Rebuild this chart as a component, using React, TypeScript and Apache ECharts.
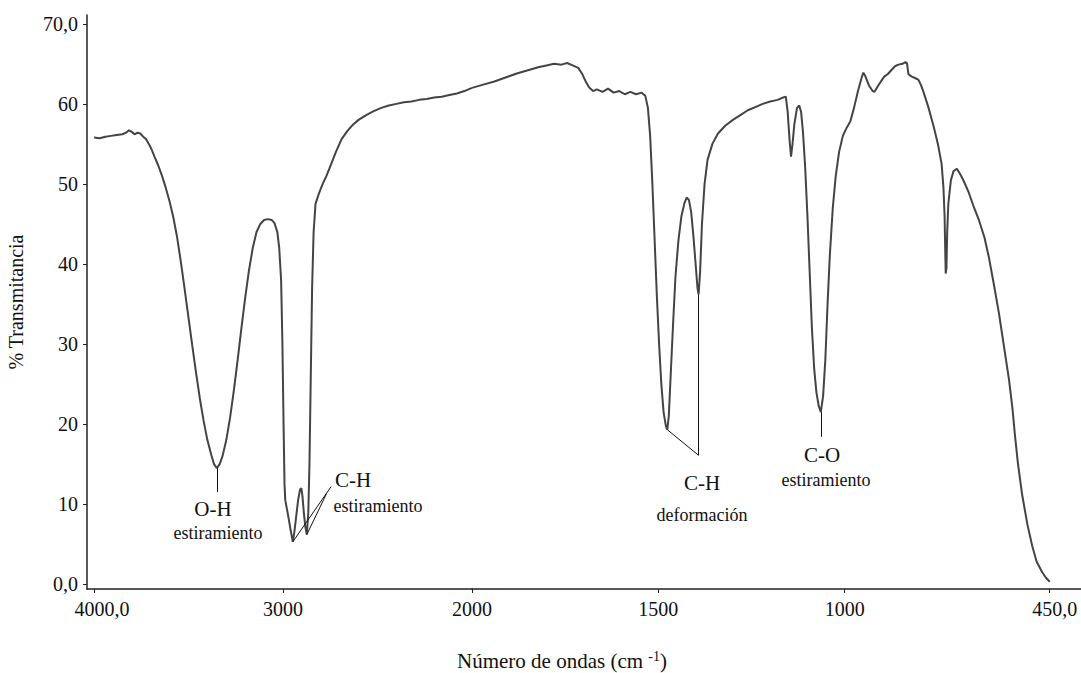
import React, { useEffect, useRef } from "react";
import * as echarts from "echarts";

// Wavenumber (cm-1) and % transmittance, 4000 -> 2000 region (compressed scale)
const wnHigh = [
  4000, 3970, 3940, 3910, 3880, 3850, 3830, 3815, 3800, 3785, 3770, 3755, 3740, 3725, 3710, 3695,
  3680, 3660, 3640, 3620, 3600, 3580, 3560, 3540, 3520, 3500, 3480, 3460, 3440, 3420, 3400, 3380,
  3365, 3350, 3335, 3320, 3300, 3280, 3260, 3240, 3220, 3200, 3180, 3160, 3140, 3120, 3100, 3080,
  3060, 3045, 3030, 3020, 3010, 3003, 2997, 2992, 2988, 2980, 2970, 2960, 2948, 2940, 2930, 2920,
  2910, 2903, 2897, 2890, 2882, 2874, 2866, 2860, 2853, 2846, 2838, 2828, 2810, 2790, 2770, 2750,
  2720, 2690, 2660, 2630, 2600, 2560, 2520, 2480, 2440, 2400, 2360, 2320, 2280, 2240, 2200, 2160,
  2120, 2080, 2040, 2000,
];
const tHigh = [
  55.8, 55.7, 55.9, 56.0, 56.1, 56.2, 56.4, 56.7, 56.5, 56.2, 56.4, 56.3, 55.9, 55.6, 55.0, 54.3,
  53.4, 52.3, 51.0, 49.5, 47.8, 45.8, 43.3, 40.2, 36.8, 33.3, 29.8, 26.4, 23.2, 20.4, 18.0, 16.2,
  15.0, 14.5, 15.0, 16.0, 18.0, 20.8, 24.2, 28.0, 32.0, 35.8, 39.2, 42.0, 44.0, 45.0, 45.5, 45.6,
  45.5, 45.1, 44.0, 42.0, 38.0, 30.0, 20.0, 12.5, 10.5, 9.5, 8.2, 6.8, 5.3, 6.5, 8.5, 10.5,
  11.8, 12.0, 11.0, 9.0, 7.2, 6.2, 9.0, 15.0, 26.0, 37.0, 44.0, 47.5, 48.8, 50.0, 51.0, 52.2,
  54.0, 55.6, 56.6, 57.4, 58.0, 58.6, 59.1, 59.5, 59.8, 60.0, 60.2, 60.3, 60.5, 60.6, 60.8, 60.9,
  61.1, 61.3, 61.6, 62.0,
];

// 2000 -> 450 region (expanded scale)
const wnLow = [
  2000, 1970, 1940, 1910, 1880, 1850, 1820, 1800, 1780, 1760, 1745, 1730, 1715, 1705, 1695, 1685,
  1675, 1665, 1650, 1635, 1620, 1605, 1590, 1575, 1560, 1545, 1535, 1528, 1522, 1516, 1510, 1504,
  1498, 1492, 1486, 1480, 1476, 1472, 1466, 1460, 1454, 1446, 1438, 1430, 1424, 1418, 1412, 1406,
  1400, 1395, 1392, 1388, 1383, 1376, 1368, 1355, 1340, 1320, 1300, 1280, 1260, 1240, 1220, 1200,
  1180, 1165, 1158, 1153, 1148, 1144, 1140, 1135, 1128, 1122, 1117, 1112, 1106, 1100, 1094, 1088,
  1082, 1076, 1070, 1064, 1058, 1052, 1046, 1040, 1032, 1024, 1015, 1005, 995, 985, 975, 965,
  955, 950, 945, 935, 925, 920, 910, 900, 894, 885, 875, 865, 856, 845, 837, 833,
  829, 820, 810, 802, 795, 788, 775, 761, 750, 740, 735, 732, 730, 729, 727, 725,
  722, 715, 708, 699, 690, 680, 667, 655, 640, 625, 613, 600, 586, 572, 559, 550,
  543, 535, 524, 510, 497, 485, 470, 460, 450,
];
const tLow = [
  62.0, 62.4, 62.8, 63.3, 63.8, 64.2, 64.6, 64.8, 65.0, 64.9, 65.1, 64.8, 64.5, 63.8, 62.8, 62.0,
  61.6, 61.8, 61.5, 61.9, 61.4, 61.6, 61.2, 61.5, 61.2, 61.4, 61.0, 59.5, 56.0, 50.0, 43.0, 36.0,
  30.0, 25.0, 21.5, 19.8, 19.3, 21.0, 27.0, 33.0, 38.5, 43.0, 46.0, 47.6, 48.3, 48.0, 46.5, 43.5,
  40.0, 37.0, 36.2, 39.0, 45.0, 50.0, 53.0, 55.0, 56.3, 57.3, 58.0, 58.6, 59.2, 59.6, 60.0, 60.3,
  60.5, 60.8, 60.9, 59.0, 55.5, 53.4, 55.0, 57.5, 59.5, 59.8, 59.0, 56.5, 52.0, 46.0, 39.0, 32.0,
  27.0, 24.0, 22.3, 21.5, 23.5, 28.0, 35.0, 41.0, 47.0, 51.0, 54.0, 56.0, 57.0, 57.8, 59.5, 61.5,
  63.2, 63.9, 63.5, 62.3, 61.6, 61.5, 62.3, 63.0, 63.4, 63.7, 64.2, 64.7, 64.9, 65.0, 65.2, 65.1,
  63.7, 63.4, 63.2, 63.0, 62.3, 61.4, 59.5, 57.1, 55.0, 52.5, 49.5, 46.0, 41.0, 38.8, 39.5, 44.0,
  47.5, 50.5, 51.6, 51.9, 51.2, 50.3, 48.9, 47.3, 45.5, 43.3, 40.8, 37.5, 33.8, 29.5, 25.5, 22.0,
  18.5, 15.0, 11.2, 7.5, 4.8, 2.8, 1.5, 0.8, 0.3,
];

const xTicksHigh = [4000, 3000];
const xTicksLow = [2000, 1500, 1000, 450];
const yTicks = [0, 10, 20, 30, 40, 50, 60, 70];

const SERIF = "'Liberation Serif', 'DejaVu Serif', serif";
const INK = "#111";

const xLabel = (v: number) => (v === 4000 ? "{e|4000,0}" : v === 450 ? "{f|450,0}" : String(v));
const yLabel = (v: number) => (v === 0 ? "0,0" : v === 70 ? "70,0" : String(v));

export default function App() {
  const ref = useRef<HTMLDivElement>(null);
  useEffect(() => {
    if (!ref.current) return;
    const chart = echarts.init(ref.current, null, { renderer: "svg" });
    const lineColor = "#444";
    const xAxisCommon = (gridIndex: number, min: number, max: number, ticks: number[]) => ({
      type: "value",
      gridIndex,
      min,
      max,
      inverse: true,
      splitLine: { show: false },
      axisLine: { show: true, onZero: false, lineStyle: { color: "#222", width: 1.5 } },
      axisTick: { show: true, length: 4, customValues: ticks, lineStyle: { color: "#222" } },
      axisLabel: {
        customValues: ticks,
        formatter: xLabel,
        margin: 10,
        fontFamily: SERIF,
        fontSize: 20,
        color: INK,
        rich: {
          e: { fontFamily: SERIF, fontSize: 20, color: INK, padding: [0, 0, 0, 16] },
          f: { fontFamily: SERIF, fontSize: 20, color: INK, padding: [0, 0, 0, 10] },
        },
      },
    });
    const txt = (x: number, y: number, text: string, size: number) => ({
      type: "text",
      x,
      y,
      style: { text, fontFamily: SERIF, fontSize: size, fill: INK, align: "center", verticalAlign: "middle" },
    });
    chart.setOption({
      animation: false,
      backgroundColor: "#fff",
      grid: [
        { left: 87, top: 15, width: 385, height: 574, containLabel: false },
        { left: 472, top: 15, width: 609, height: 574, containLabel: false },
      ],
      xAxis: [xAxisCommon(0, 2000, 4037, xTicksHigh), xAxisCommon(1, 366, 2000, xTicksLow)],
      yAxis: [
        {
          type: "value",
          gridIndex: 0,
          min: -0.6,
          max: 71.1,
          name: "% Transmitancia",
          nameLocation: "middle",
          nameGap: 61,
          nameRotate: 90,
          nameTextStyle: { fontFamily: SERIF, fontSize: 20, color: INK },
          splitLine: { show: false },
          axisLine: { show: true, lineStyle: { color: "#222", width: 1.5 } },
          axisTick: { show: true, length: 4, customValues: yTicks, lineStyle: { color: "#222" } },
          axisLabel: {
            customValues: yTicks,
            formatter: yLabel,
            margin: 9,
            fontFamily: SERIF,
            fontSize: 20,
            color: INK,
          },
        },
        { type: "value", gridIndex: 1, min: -0.6, max: 71.1, show: false },
      ],
      series: [
        {
          type: "line",
          xAxisIndex: 0,
          yAxisIndex: 0,
          data: wnHigh.map((w, i) => [w, tHigh[i]]),
          showSymbol: false,
          smooth: false,
          lineStyle: { color: lineColor, width: 2 },
          markLine: {
            silent: true,
            symbol: ["none", "none"],
            label: { show: false },
            lineStyle: { color: INK, width: 1, type: "solid" },
            data: [
              [{ coord: [3350, 14.5] }, { coord: [3350, 11.5] }],
              [{ coord: [2948, 5.3] }, { coord: [2745, 12.2] }],
              [{ coord: [2874, 6.2] }, { coord: [2770, 11.3] }],
            ],
          },
        },
        {
          type: "line",
          xAxisIndex: 1,
          yAxisIndex: 1,
          data: wnLow.map((w, i) => [w, tLow[i]]),
          showSymbol: false,
          smooth: false,
          lineStyle: { color: lineColor, width: 2 },
          markLine: {
            silent: true,
            symbol: ["none", "none"],
            label: { show: false },
            lineStyle: { color: INK, width: 1, type: "solid" },
            data: [
              [{ coord: [1476, 19.3] }, { coord: [1392, 16.1] }],
              [{ coord: [1392, 36.2] }, { coord: [1392, 16.1] }],
              [{ coord: [1064, 21.5] }, { coord: [1064, 18.4] }],
            ],
          },
        },
      ],
      graphic: [
        txt(213, 509, "O-H", 21),
        txt(218, 533, "estiramiento", 18),
        txt(353, 480, "C-H", 21),
        txt(378, 506, "estiramiento", 18),
        txt(702, 483, "C-H", 21),
        txt(702, 515, "deformación", 18),
        txt(822, 455, "C-O", 21),
        txt(826, 480, "estiramiento", 18),
        {
          type: "text",
          x: 562,
          y: 661,
          style: {
            text: "{n|Número de ondas (cm }{s|-1}{n|)}",
            align: "center",
            verticalAlign: "middle",
            rich: {
              n: { fontFamily: SERIF, fontSize: 21, fill: INK },
              s: { fontFamily: SERIF, fontSize: 14, fill: INK, padding: [0, 0, 9, 0] },
            },
          },
        },
      ],
    });
    return () => chart.dispose();
  }, []);
  return (
    <div
      ref={ref}
      style={{ position: "fixed", left: 0, top: 0, width: 1081, height: 673, background: "#fff" }}
    />
  );
}
